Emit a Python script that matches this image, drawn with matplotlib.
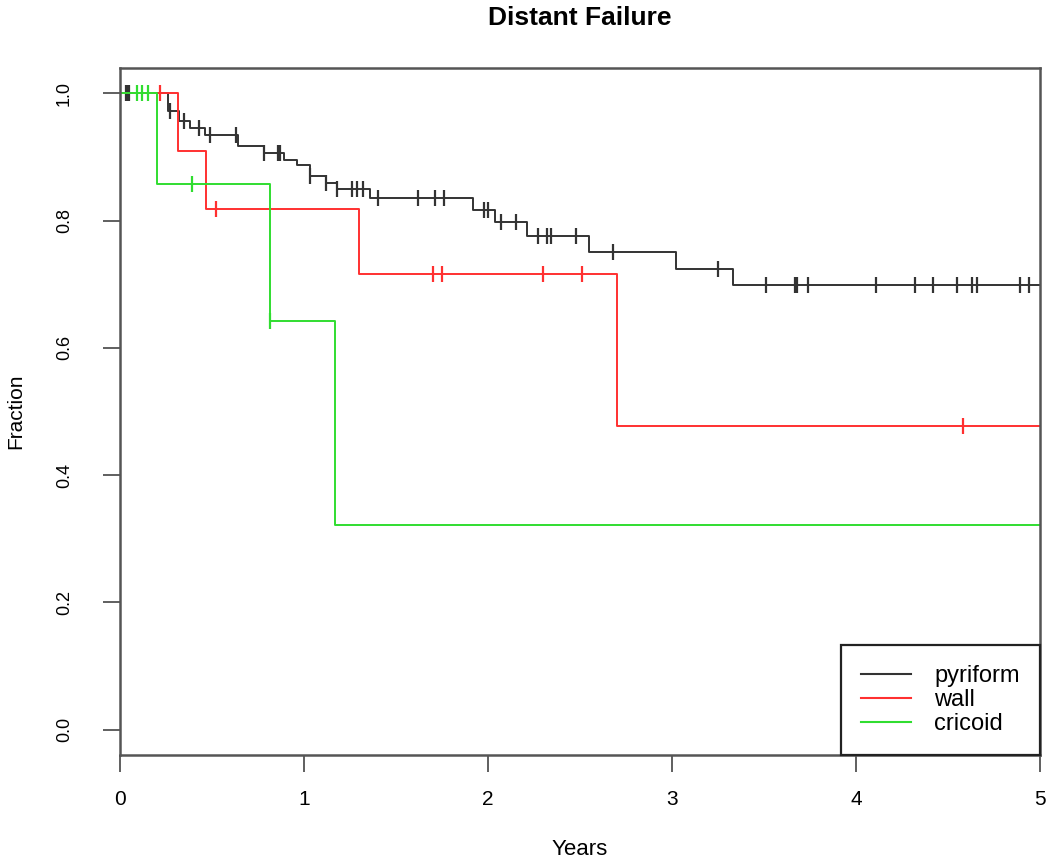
import matplotlib.pyplot as plt
import numpy as np

plt.rcParams['font.family'] = ['Liberation Sans', 'DejaVu Sans']

# step times / survival after each step, censoring times
pyr_t = [0.26, 0.32, 0.38, 0.46, 0.64, 0.78, 0.89, 0.96, 1.03, 1.12, 1.18, 1.36,
         1.92, 2.04, 2.21, 2.55, 3.02, 3.33]
pyr_s = [0.973, 0.957, 0.946, 0.934, 0.918, 0.907, 0.896, 0.887, 0.871, 0.860,
         0.850, 0.836, 0.816, 0.798, 0.776, 0.750, 0.724, 0.699]
pyr_cens = [0.03, 0.04, 0.05, 0.27, 0.35, 0.43, 0.49, 0.63, 0.78, 0.86, 0.87, 1.03,
            1.12, 1.18, 1.26, 1.29, 1.32, 1.40, 1.62, 1.71, 1.76, 1.98, 2.00, 2.07,
            2.15, 2.27, 2.32, 2.34, 2.48, 2.68, 3.25, 3.51, 3.67, 3.68, 3.74, 4.11,
            4.32, 4.42, 4.55, 4.63, 4.66, 4.89, 4.94]

wall_t = [0.315, 0.47, 1.30, 2.70]
wall_s = [0.909, 0.818, 0.716, 0.477]
wall_cens = [0.22, 0.52, 1.70, 1.75, 2.30, 2.51, 4.58]

cric_t = [0.20, 0.815, 1.17]
cric_s = [0.857, 0.643, 0.321]
cric_cens = [0.09, 0.12, 0.15, 0.39, 0.815]

labels = ['pyriform', 'wall', 'cricoid']
colors = ['#333333', '#ff3030', '#30dd30']
t_end = 5.0

fig = plt.figure(figsize=(10.5, 8.61), dpi=100)
ax = fig.add_axes([120/1050, 1 - 755/861, 920/1050, 687/861])


def km(ax, t, s, cens, color, label):
    xs = np.concatenate([[0], t, [t_end]])
    ys = np.concatenate([[1.0], s, [s[-1]]])
    ax.step(xs, ys, where='post', color=color, lw=1.4, label=label)
    idx = np.searchsorted(xs, cens, side='right') - 1
    ax.plot(cens, ys[idx], ls='none', marker='|', ms=11, mew=1.6, color=color)


km(ax, pyr_t, pyr_s, pyr_cens, colors[0], labels[0])
km(ax, wall_t, wall_s, wall_cens, colors[1], labels[1])
km(ax, cric_t, cric_s, cric_cens, colors[2], labels[2])

ax.set_xlim(0, 5)
ax.set_ylim(-0.04, 1.04)
ax.set_xticks(range(6))
ax.set_yticks([0, 0.2, 0.4, 0.6, 0.8, 1.0])
ax.set_yticklabels(['0.0', '0.2', '0.4', '0.6', '0.8', '1.0'], rotation=90, va='center')

ax.tick_params(direction='out', length=12, width=1.2, color='#444444')
ax.tick_params(axis='x', labelsize=15, pad=13)
ax.tick_params(axis='y', labelsize=13, pad=22)

for sp in ax.spines.values():
    sp.set_linewidth(1.8)
    sp.set_color('#555555')

ax.set_title('Distant Failure', fontsize=19, fontweight='bold', pad=31)
ax.set_xlabel('Years', fontsize=16)
ax.set_ylabel('Fraction', fontsize=15)
ax.xaxis.set_label_coords(0.5, -0.122)
ax.yaxis.set_label_coords(-0.103, 0.5)

leg = ax.legend(loc='lower right', bbox_to_anchor=(1, 0), borderaxespad=0,
                fontsize=17, fancybox=False, framealpha=1, edgecolor='#222222',
                handlelength=2.1, handletextpad=1.0, borderpad=0.85,
                labelspacing=0.08)
leg.get_frame().set_linewidth(1.6)
for ln in leg.get_lines():
    ln.set_linewidth(1.5)

plt.savefig('out.png', dpi=100)
